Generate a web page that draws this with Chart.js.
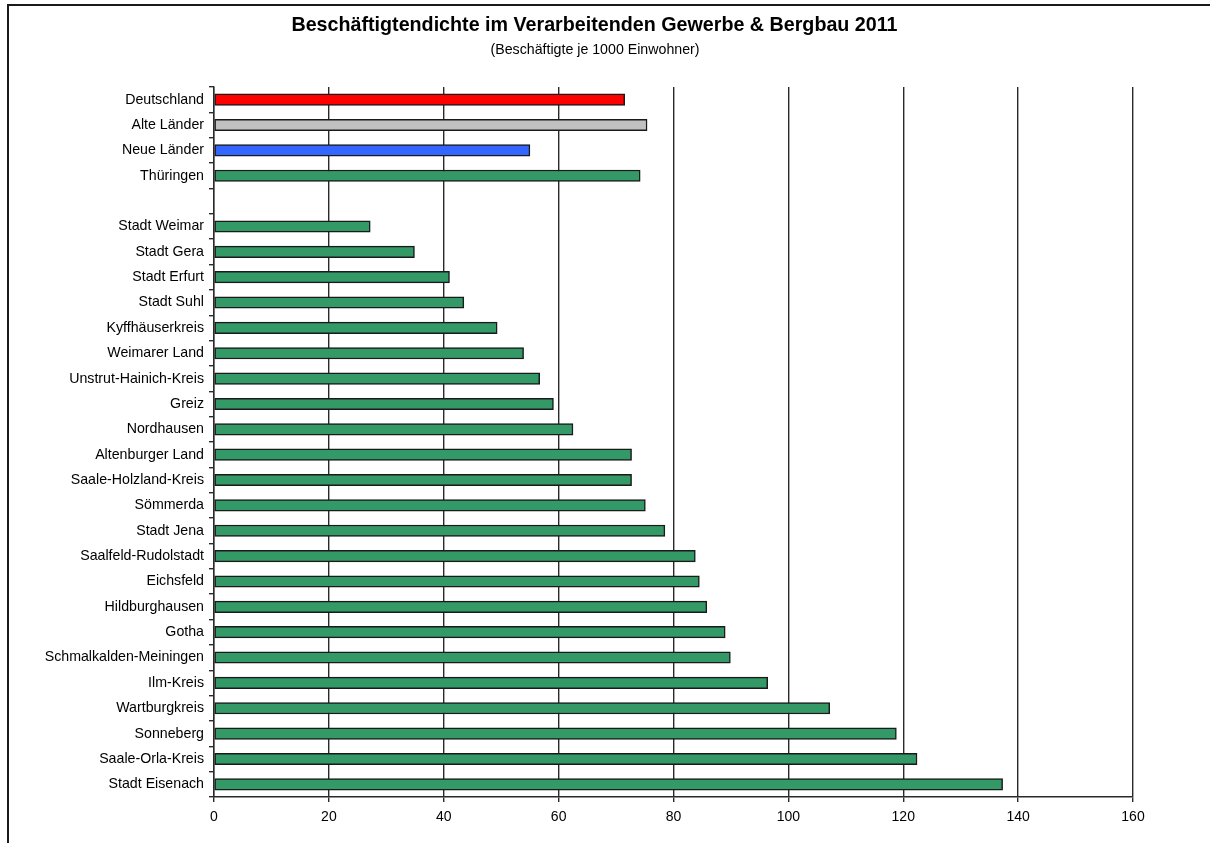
<!DOCTYPE html>
<html lang="de">
<head>
<meta charset="utf-8">
<title>Beschäftigtendichte im Verarbeitenden Gewerbe &amp; Bergbau 2011</title>
<script src="https://cdn.jsdelivr.net/npm/chart.js@4.4.1/dist/chart.umd.min.js"></script>
<style>
  html, body { margin: 0; padding: 0; background: #fff; }
  #wrap { position: relative; width: 1210px; height: 843px; overflow: hidden; }
  #frame {
    position: absolute; left: 7px; top: 4px; width: 1400px; height: 1000px;
    border-top: 2px solid #1a1a1a; border-left: 2px solid #1a1a1a;
    box-sizing: border-box;
  }
  #chart { position: absolute; left: 0; top: 0; }
</style>
</head>
<body>
<div id="wrap">
  <div id="frame"></div>
  <canvas id="chart" width="1210" height="843"></canvas>
</div>
<script>
// Beschäftigte im Verarbeitenden Gewerbe & Bergbau je 1000 Einwohner, 2011
const titleText = 'Beschäftigtendichte im Verarbeitenden Gewerbe & Bergbau 2011';
const subtitleText = '(Beschäftigte je 1000 Einwohner)';

const categories = [
  'Deutschland', 'Alte Länder', 'Neue Länder', 'Thüringen', '',
  'Stadt Weimar', 'Stadt Gera', 'Stadt Erfurt', 'Stadt Suhl',
  'Kyffhäuserkreis', 'Weimarer Land', 'Unstrut-Hainich-Kreis', 'Greiz',
  'Nordhausen', 'Altenburger Land', 'Saale-Holzland-Kreis', 'Sömmerda',
  'Stadt Jena', 'Saalfeld-Rudolstadt', 'Eichsfeld', 'Hildburghausen',
  'Gotha', 'Schmalkalden-Meiningen', 'Ilm-Kreis', 'Wartburgkreis',
  'Sonneberg', 'Saale-Orla-Kreis', 'Stadt Eisenach'
];

const values = [
  71.5, 75.4, 55.0, 74.2, null,
  27.2, 34.9, 41.0, 43.5,
  49.3, 53.9, 56.7, 59.1,
  62.5, 72.7, 72.7, 75.1,
  78.5, 83.8, 84.5, 85.8,
  89.0, 89.9, 96.4, 107.2,
  118.8, 122.4, 137.3
];

// Bund / Länder groups get their own colour, districts share green
const groupColors = ['#ff0000', '#c0c0c0', '#3366ff'];
const districtColor = '#339966';
const barColors = categories.map((c, i) => i < groupColors.length ? groupColors[i] : districtColor);

const xMin = 0, xMax = 160, xStep = 20;

const FONT = '"Liberation Sans", Arial, Helvetica, sans-serif';
const INK = '#2a2a2a';

// Heading drawn centred above the plot
const headerPlugin = {
  id: 'header',
  afterDraw(chart) {
    const ctx = chart.ctx;
    ctx.save();
    ctx.fillStyle = '#000';
    ctx.textAlign = 'center';
    ctx.textBaseline = 'alphabetic';
    ctx.font = 'bold 19.7px ' + FONT;
    ctx.fillText(titleText, 594.5, 31);
    ctx.font = '14.2px ' + FONT;
    ctx.fillText(subtitleText, 595, 54);
    ctx.restore();
  }
};

new Chart(document.getElementById('chart'), {
  type: 'bar',
  data: {
    labels: categories,
    datasets: [{
      data: values,
      backgroundColor: barColors,
      borderColor: '#1a1a1a',
      borderWidth: 1.5,
      borderSkipped: false,
      barThickness: 11.5
    }]
  },
  options: {
    indexAxis: 'y',
    responsive: false,
    animation: false,
    events: [],
    layout: { padding: { top: 87, right: 77, bottom: 0, left: 0 } },
    plugins: {
      legend: { display: false },
      tooltip: { enabled: false },
      title: { display: false }
    },
    scales: {
      x: {
        type: 'linear',
        position: 'bottom',
        min: xMin,
        max: xMax,
        ticks: {
          stepSize: xStep,
          color: '#000',
          font: { family: FONT, size: 14 },
          padding: 7
        },
        grid: {
          color: INK,
          lineWidth: 1.4,
          tickLength: 5,
          drawOnChartArea: true
        },
        border: { display: true, color: INK, width: 1.4 },
        afterFit(scale) { scale.height = 46; }
      },
      y: {
        type: 'category',
        position: 'left',
        offset: true,
        ticks: {
          color: '#000',
          font: { family: FONT, size: 14.2 },
          padding: 5,
          autoSkip: false
        },
        grid: {
          offset: true,
          drawOnChartArea: false,
          drawTicks: true,
          tickLength: 5,
          color: INK,
          lineWidth: 1.4
        },
        border: { display: true, color: INK, width: 1.4 },
        afterFit(scale) { scale.width = 214; }
      }
    }
  },
  plugins: [headerPlugin]
});
</script>
</body>
</html>
